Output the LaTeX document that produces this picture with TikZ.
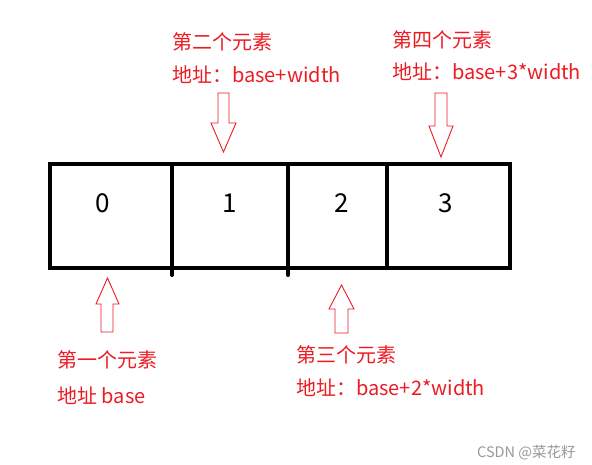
\documentclass[tikz,border=0pt]{standalone}
\usepackage{fontspec}
\newfontfamily\cjk{Noto Sans CJK SC}
\definecolor{paintred}{RGB}{237,28,36}
\tikzset{
  cell/.style={line width=4pt, line cap=round, line join=miter},
  digit/.style={font=\cjk\fontsize{26}{30}\selectfont, inner sep=0pt},
  label/.style={font=\cjk\fontsize{20}{24}\selectfont, text=paintred, anchor=west, inner sep=0pt},
  hollow/.style={draw=paintred, line width=0.9pt, line join=miter},
}
\begin{document}
\begin{tikzpicture}[x=1pt, y=-1pt]
\useasboundingbox[fill=white] (0,0) rectangle (592,464);

% the array
\draw[cell] (50,164) rectangle (510,268);
\draw[cell] (172,164) -- (172,275);
\draw[cell] (288,164) -- (288,275);
\draw[cell] (387,164) -- (387,268);

\node[name=d0, digit] at (103,203) {0};
\node[name=d1, digit] at (230,203) {1};
\node[name=d2, digit] at (342,203) {2};
\node[name=d3, digit] at (446,203) {3};

% labels
\node[name=t2, label] at (172,42) {第二个元素};
\node[name=a2, label] at (172,75) {地址：base+width};
\node[name=t4, label] at (392,40) {第四个元素};
\node[name=a4, label] at (392,72) {地址：base+3*width};
\node[name=t1, label] at (57,360) {第一个元素};
\node[name=a1, label] at (57,396) {地址 base};
\node[name=t3, label] at (296,355) {第三个元素};
\node[name=a3, label] at (296,388) {地址：base+2*width};

% hollow arrows
\draw[hollow] (218,93) -- (218,123) -- (211,123) -- (223.5,152) -- (236,123) -- (229,123) -- (229,93) -- cycle;
\draw[hollow] (435,93) -- (435,126) -- (429,126) -- (441,157) -- (453,126) -- (447,126) -- (447,93) -- cycle;
\draw[hollow] (101,332) -- (101,304) -- (96,304) -- (107.5,278) -- (119,304) -- (113,304) -- (113,332) -- cycle;
\draw[hollow] (335,333) -- (335,309) -- (329,309) -- (341.5,285) -- (354,309) -- (348,309) -- (348,333) -- cycle;

% watermark
\node[name=mark, font=\cjk\fontsize{14.5}{17}\selectfont, text=black!40, anchor=west, inner sep=0pt] at (477,453) {CSDN @菜花籽};
\end{tikzpicture}
\end{document}
